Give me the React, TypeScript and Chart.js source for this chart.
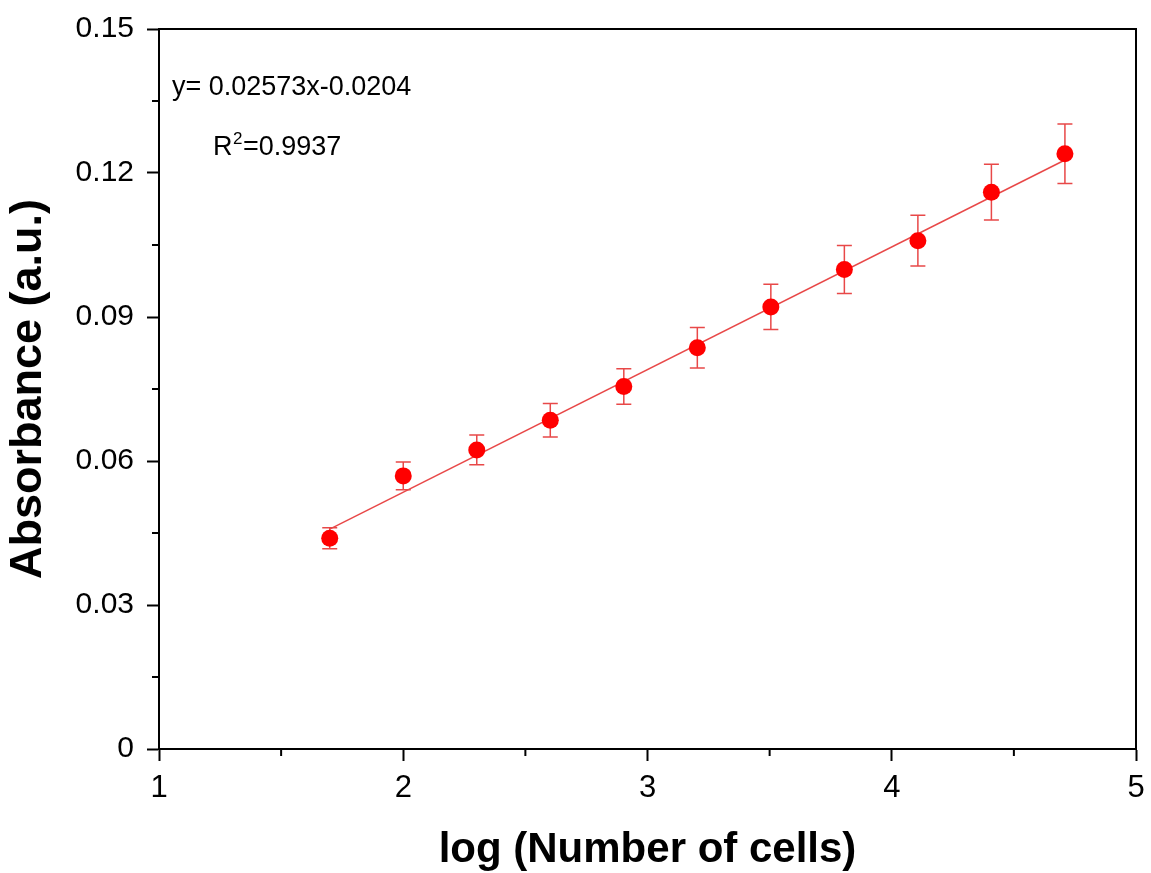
import React, { useEffect, useRef } from "react";
import { Chart, registerables } from "chart.js";

Chart.register(...registerables);

// ---- data ----
const logCells = [1.699, 2.0, 2.301, 2.602, 2.903, 3.204, 3.505, 3.806, 4.107, 4.408, 4.709];
const absorbance = [0.0439, 0.0569, 0.0623, 0.0685, 0.0755, 0.0836, 0.0921, 0.0999, 0.1059, 0.116, 0.124];
const absorbanceErr = [0.0022, 0.0029, 0.0031, 0.0035, 0.0037, 0.0042, 0.0047, 0.005, 0.0053, 0.0058, 0.0062];
const fitX = [1.699, 4.709];
const fitY = [0.0458, 0.1227];
const xMinorTicks = [1.5, 2.5, 3.5, 4.5];
const yMinorTicks = [0.015, 0.045, 0.075, 0.105, 0.135];
const equationText = "y= 0.02573x-0.0204";
const r2Main = "R";
const r2Sup = "2";
const r2Rest = "=0.9937";
const xTitle = "log (Number of cells)";
const yTitle = "Absorbance (a.u.)";

const FONT = '"Liberation Sans", Arial, sans-serif';
const POINT_RED = "#FF0000";
const LINE_RED = "#E84848";

const errorBarPlugin = {
  id: "errorBars",
  beforeDatasetsDraw(chart: any) {
    const { ctx } = chart;
    const xs = chart.scales.x;
    const ys = chart.scales.y;
    ctx.save();
    ctx.strokeStyle = LINE_RED;
    ctx.lineWidth = 1.5;
    const cap = 7.5;
    for (let i = 0; i < logCells.length; i++) {
      const px = xs.getPixelForValue(logCells[i]);
      const top = ys.getPixelForValue(absorbance[i] + absorbanceErr[i]);
      const bot = ys.getPixelForValue(absorbance[i] - absorbanceErr[i]);
      ctx.beginPath();
      ctx.moveTo(px, top);
      ctx.lineTo(px, bot);
      ctx.moveTo(px - cap, top);
      ctx.lineTo(px + cap, top);
      ctx.moveTo(px - cap, bot);
      ctx.lineTo(px + cap, bot);
      ctx.stroke();
    }
    ctx.restore();
  },
};

const framePlugin = {
  id: "frameAndMinor",
  afterDraw(chart: any) {
    const { ctx, chartArea } = chart;
    const xs = chart.scales.x;
    const ys = chart.scales.y;
    ctx.save();
    ctx.strokeStyle = "#000";
    ctx.lineWidth = 2;
    // top and right frame
    ctx.beginPath();
    ctx.moveTo(chartArea.left - 1, chartArea.top);
    ctx.lineTo(chartArea.right, chartArea.top);
    ctx.lineTo(chartArea.right, chartArea.bottom);
    ctx.stroke();
    // minor ticks
    ctx.beginPath();
    for (const v of xMinorTicks) {
      const px = xs.getPixelForValue(v);
      ctx.moveTo(px, chartArea.bottom);
      ctx.lineTo(px, chartArea.bottom + 7);
    }
    for (const v of yMinorTicks) {
      const py = ys.getPixelForValue(v);
      ctx.moveTo(chartArea.left, py);
      ctx.lineTo(chartArea.left - 7, py);
    }
    ctx.stroke();

    // annotations
    ctx.fillStyle = "#000";
    ctx.textBaseline = "middle";
    ctx.textAlign = "left";
    ctx.font = `27px ${FONT}`;
    ctx.fillText(equationText, xs.getPixelForValue(1.053), ys.getPixelForValue(0.1377));
    const rx = xs.getPixelForValue(1.221);
    const ry = ys.getPixelForValue(0.1252);
    ctx.fillText(r2Main, rx, ry);
    const w1 = ctx.measureText(r2Main).width;
    ctx.font = `17px ${FONT}`;
    ctx.fillText(r2Sup, rx + w1 + 0.5, ry - 9);
    const w2 = ctx.measureText(r2Sup).width;
    ctx.font = `27px ${FONT}`;
    ctx.fillText(r2Rest, rx + w1 + w2 + 1, ry);
    ctx.restore();
  },
};

export default function App() {
  const ref = useRef<HTMLCanvasElement | null>(null);

  useEffect(() => {
    if (!ref.current) return;
    const chart = new Chart(ref.current, {
      type: "scatter",
      data: {
        datasets: [
          {
            label: "Absorbance",
            data: logCells.map((x, i) => ({ x, y: absorbance[i] })),
            backgroundColor: POINT_RED,
            borderColor: POINT_RED,
            borderWidth: 0,
            pointRadius: 8.5,
            order: 1,
          },
          {
            type: "line",
            label: "Fit",
            data: fitX.map((x, i) => ({ x, y: fitY[i] })),
            borderColor: LINE_RED,
            borderWidth: 1.5,
            pointRadius: 0,
            fill: false,
            order: 2,
          } as any,
        ],
      },
      options: {
        animation: false,
        responsive: false,
        devicePixelRatio: 1,
        layout: { padding: { top: 29, right: 15, left: 0, bottom: 0 } },
        plugins: {
          legend: { display: false },
          tooltip: { enabled: false },
        },
        scales: {
          x: {
            type: "linear",
            min: 1,
            max: 5,
            afterFit: (s: any) => {
              s.height = 124;
              s.paddingLeft = 0;
              s.paddingRight = 0;
            },
            ticks: {
              stepSize: 1,
              color: "#000",
              padding: 9,
              maxRotation: 0,
              font: { family: FONT, size: 31 },
            },
            grid: {
              display: true,
              drawOnChartArea: false,
              drawTicks: true,
              tickLength: 12,
              tickColor: "#000",
              tickWidth: 2,
              color: "#000",
            },
            border: { display: true, color: "#000", width: 2 },
            title: {
              display: true,
              text: xTitle,
              color: "#000",
              font: { family: FONT, size: 42, weight: "bold", lineHeight: 1 },
              padding: { top: 0, bottom: 2 },
            },
          },
          y: {
            type: "linear",
            min: 0,
            max: 0.15,
            afterFit: (s: any) => {
              s.width = 159;
              s.paddingTop = 0;
              s.paddingBottom = 0;
            },
            ticks: {
              stepSize: 0.03,
              color: "#000",
              padding: 13,
              font: { family: FONT, size: 30 },
              callback: (v: any) => (Number(v) === 0 ? "0" : Number(v).toFixed(2)),
            },
            grid: {
              display: true,
              drawOnChartArea: false,
              drawTicks: true,
              tickLength: 12,
              tickColor: "#000",
              tickWidth: 2,
              color: "#000",
            },
            border: { display: true, color: "#000", width: 2 },
            title: {
              display: true,
              text: yTitle,
              color: "#000",
              font: { family: FONT, size: 45, weight: "bold", lineHeight: 1 },
              padding: { top: 6, bottom: 0 },
            },
          },
        },
      },
      plugins: [errorBarPlugin, framePlugin],
    } as any);
    return () => chart.destroy();
  }, []);

  return (
    <div style={{ position: "absolute", left: 0, top: 0, width: 1151, height: 873, background: "#fff" }}>
      <canvas ref={ref} width={1151} height={873} style={{ display: "block" }} />
    </div>
  );
}
